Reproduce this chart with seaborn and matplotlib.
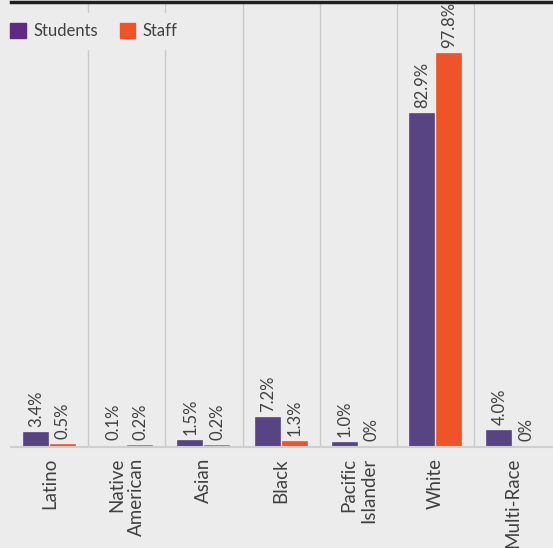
import matplotlib
matplotlib.use("Agg")
import matplotlib.pyplot as plt
import matplotlib.patches as mpatches
import seaborn as sns
import pandas as pd

categories = ["Latino", "Native\nAmerican", "Asian", "Black", "Pacific\nIslander", "White", "Multi-Race"]
students = [3.4, 0.1, 1.5, 7.2, 1.0, 82.9, 4.0]
staff = [0.5, 0.2, 0.2, 1.3, 0.0, 97.8, 0.0]
series = ["Students", "Staff"]

BG = "#ececed"
C_STU = "#574482"
C_STU_LEG = "#5e2a86"
C_STAFF = "#ef5328"
TXT = "#404040"

df = pd.DataFrame({
    "category": categories * 2,
    "value": students + staff,
    "group": ["Students"] * len(categories) + ["Staff"] * len(categories),
})

sns.set_theme(style="white")
plt.rcParams["font.family"] = ["Lato", "DejaVu Sans"]

fig = plt.figure(figsize=(5.53, 5.48), dpi=100, facecolor=BG)
ax = fig.add_axes([10.8 / 553, 101 / 548, (551.5 - 10.8) / 553, 445 / 548])
ax.set_facecolor(BG)

sns.barplot(data=df, x="category", y="value", hue="group", order=categories,
            hue_order=series, palette=[C_STU, C_STAFF], width=0.7, gap=0.11,
            saturation=1, legend=False, ax=ax, zorder=3, linewidth=0)

ax.set_xlim(-0.5, len(categories) - 0.5)
ax.set_ylim(0, 110.7)

for x in range(len(categories) - 1):
    ax.axvline(x + 0.5, color="#c9c9c9", lw=1, zorder=1)

for cont, vals, col in zip(ax.containers, [students, staff], [C_STU, C_STAFF]):
    for bar, v in zip(cont, vals):
        if v > 0:
            bar.set_edgecolor(col)
            bar.set_linewidth(1.2)
        lab = "0%" if v == 0 else f"{v:.1f}%"
        ax.annotate(lab, (bar.get_x() + bar.get_width() / 2, bar.get_height()),
                    xytext=(0, 4.5), textcoords="offset points", rotation=90,
                    ha="center", va="bottom", fontsize=12, color=TXT)

for s in ["left", "right"]:
    ax.spines[s].set_visible(False)
ax.spines["top"].set_color("#202020")
ax.spines["top"].set_linewidth(2.5)
ax.spines["bottom"].set_color("#cfcfcf")
ax.spines["bottom"].set_linewidth(1.5)
ax.spines["bottom"].set_zorder(4)

ax.set_yticks([])
ax.set_xlabel("")
ax.set_ylabel("")
ax.tick_params(axis="x", length=0, pad=8)
ax.set_xticks(range(len(categories)))
ax.set_xticklabels(categories, rotation=90, fontsize=13.5, color=TXT,
                   va="top", ha="center", multialignment="right")

handles = [mpatches.Patch(color=C_STU_LEG, label="Students"),
           mpatches.Patch(color=C_STAFF, label="Staff")]
leg = ax.legend(handles=handles, loc="upper left", bbox_to_anchor=(-0.02, 0.975),
                ncol=2, frameon=True, handlelength=0.95, handleheight=0.95,
                handletextpad=0.45, columnspacing=1.3, borderpad=0.6, borderaxespad=0,
                prop={"size": 12})
leg.get_frame().set_facecolor(BG)
leg.get_frame().set_edgecolor(BG)
leg.get_frame().set_alpha(1)
leg.set_zorder(5)
for t in leg.get_texts():
    t.set_color(TXT)

fig.savefig("out.png", dpi=100, facecolor=BG)
